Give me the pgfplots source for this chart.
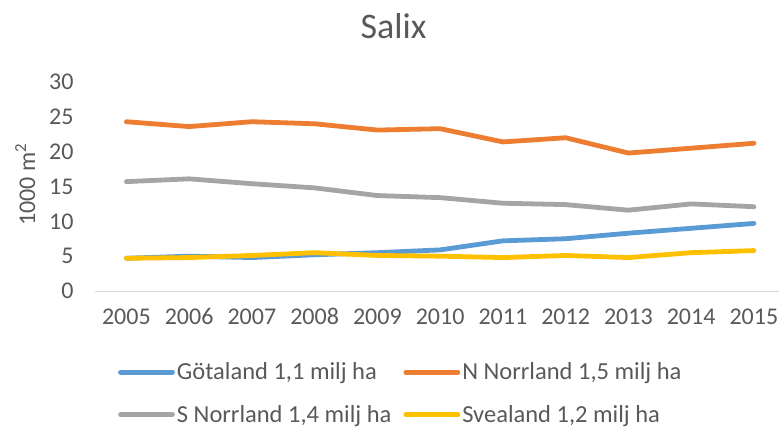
\documentclass[border=0pt]{standalone}
\usepackage{pgfplots}
\pgfplotsset{compat=1.18}
\usepackage{fontspec}
\setmainfont{Carlito}
\definecolor{cblue}{HTML}{5B9BD5}
\definecolor{corange}{HTML}{ED7D31}
\definecolor{cgray}{HTML}{A5A5A5}
\definecolor{cyellow}{HTML}{FFC000}
\definecolor{txt}{HTML}{595959}
\definecolor{axl}{HTML}{D9D9D9}
\begin{document}
\begin{tikzpicture}
\path[use as bounding box] (0,0) rectangle (779bp,431bp);
\begin{axis}[
  scale only axis,
  width=684bp, height=209bp,
  at={(95bp,140bp)}, anchor=south west,
  xmin=2004.5, xmax=2015.4,
  ymin=0, ymax=30,
  xtick={2005,...,2015},
  ytick={0,5,...,30},
  x tick label style={/pgf/number format/1000 sep={}},
  /pgf/number format/assume math mode=true,
  tick label style={font=\fontsize{24bp}{27bp}\selectfont, text=txt},
  major tick length=0pt,
  axis x line*=bottom,
  axis y line*=left,
  x axis line style={draw=axl, line width=1bp, -},
  y axis line style={draw=none},
  xticklabel style={anchor=base, yshift=-33bp},
  yticklabel style={xshift=-18bp},
  ylabel={1000 m\textsuperscript{2}},
  ylabel style={at={(axis description cs:-0.102,0.51)}, anchor=center, font=\fontsize{24bp}{27bp}\selectfont, text=txt},
  legend columns=2,
  legend style={draw=none, fill=none, at={(axis description cs:0.447,-0.49)}, anchor=center,
    font=\fontsize{24.5bp}{27bp}\selectfont, text=txt,
    /tikz/every even column/.append style={column sep=10bp},
    row sep=20bp},
  legend cell align=left,
  legend image code/.code={\draw[#1, line width=4.8bp, line cap=round] (0bp,0bp) -- (52bp,0bp);},
  every axis plot/.append style={line width=4.8bp, line join=round, line cap=round},
]
\addplot[cblue] coordinates {(2005,4.7)(2006,5.0)(2007,4.8)(2008,5.2)(2009,5.5)(2010,5.9)(2011,7.2)(2012,7.5)(2013,8.3)(2014,9.0)(2015,9.7)};
\addlegendentry{Götaland 1,1 milj ha}
\addplot[corange] coordinates {(2005,24.3)(2006,23.6)(2007,24.3)(2008,24.0)(2009,23.1)(2010,23.3)(2011,21.4)(2012,22.0)(2013,19.8)(2014,20.5)(2015,21.2)};
\addlegendentry{N Norrland 1,5 milj ha}
\addplot[cgray] coordinates {(2005,15.7)(2006,16.1)(2007,15.4)(2008,14.8)(2009,13.7)(2010,13.4)(2011,12.6)(2012,12.4)(2013,11.6)(2014,12.5)(2015,12.1)};
\addlegendentry{S Norrland 1,4 milj ha}
\addplot[cyellow] coordinates {(2005,4.7)(2006,4.8)(2007,5.1)(2008,5.5)(2009,5.1)(2010,5.0)(2011,4.8)(2012,5.1)(2013,4.8)(2014,5.5)(2015,5.8)};
\addlegendentry{Svealand 1,2 milj ha}
\end{axis}
\node[text=txt, font=\fontsize{36bp}{40bp}\selectfont] at (393.5bp,405bp) {Salix};
\end{tikzpicture}
\end{document}
